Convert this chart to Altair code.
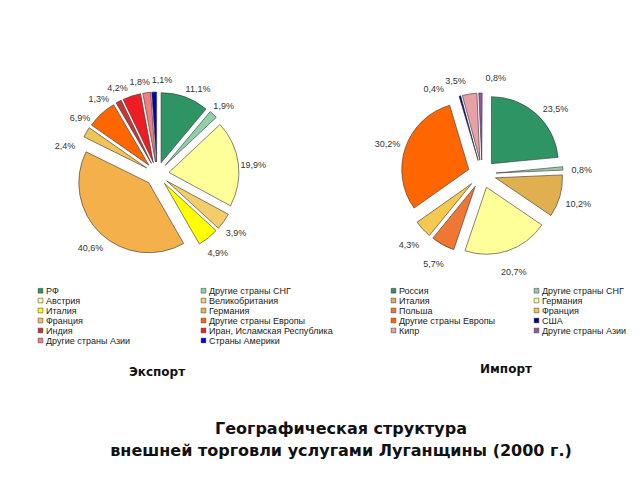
import altair as alt
import pandas as pd

# ---------------- data ----------------
exp_names = ["РФ", "Другие страны СНГ", "Австрия", "Великобритания", "Италия",
             "Германия", "Франция", "Другие страны Европы", "Индия",
             "Иран, Исламская Республика", "Другие страны Азии", "Страны Америки"]
exp_values = [11.1, 1.9, 19.9, 3.9, 4.9, 40.6, 2.4, 6.9, 1.3, 4.2, 1.8, 1.1]
exp_colors = ["#2F9464", "#8FD0A8", "#FFFF99", "#F3CD6A", "#FFFF00", "#F4B04A",
              "#F1C45A", "#FF6600", "#CC3333", "#EE1C25", "#F08080", "#0000CC"]

imp_names = ["Россия", "Другие страны СНГ", "Италия", "Германия", "Польша",
             "Франция", "Другие страны Европы", "США", "Кипр", "Другие страны Азии"]
imp_values = [23.5, 0.8, 10.2, 20.7, 5.7, 4.3, 30.2, 0.4, 3.5, 0.8]
imp_colors = ["#2E9464", "#99CCAA", "#E0B050", "#FFFF99", "#EE7733",
              "#F5C850", "#FF6600", "#000080", "#E8A0A8", "#9955AA"]

panel_titles = ["Экспорт", "Импорт"]
main_title = ["Географическая структура", "внешней торговли услугами Луганщины (2000 г.)"]

# layout only: angular nudges (degrees) for crowded data labels
exp_label_nudge = {"Франция": -12, "Другие страны Европы": -10, "Индия": -9,
                   "Иран, Исламская Республика": -6, "Другие страны Азии": -3,
                   "Страны Америки": 5, "РФ": 5}
imp_label_nudge = {"США": -13, "Кипр": -6.5, "Другие страны Азии": 9, "Россия": 5}

FONT = "Liberation Sans"


def pie(names, values, colors, nudge, cx, cy, r, e, lr, ldy, legx, legy, cpad):
    df = pd.DataFrame({"name": names, "value": values, "idx": list(range(len(names)))})
    nudge_expr = "0"
    for k, v in nudge.items():
        nudge_expr = f"(datum.name == '{k}' ? {v} : {nudge_expr})"
    base = (
        alt.Chart(df)
        .transform_window(cum="sum(value)", sort=[alt.SortField("idx")], frame=[None, 0])
        .transform_calculate(start="datum.cum - datum.value")
        .transform_calculate(mid="(datum.cum - datum.value / 2) * 2 * PI / 100")
        .transform_calculate(lmid=f"datum.mid + ({nudge_expr}) * PI / 180")
        .transform_calculate(px=f"{cx} + {e} * sin(datum.mid)")
        .transform_calculate(py=f"{cy} - {e} * cos(datum.mid)")
        .transform_calculate(lx=f"{cx} + {lr} * sin(datum.lmid)")
        .transform_calculate(ly=f"{cy} + {ldy} - {lr} * cos(datum.lmid)")
        .transform_calculate(label="replace(format(datum.value, '.1f'), '.', ',') + '%'")
    )
    arcs = base.mark_arc(outerRadius=r, stroke="#333333", strokeWidth=0.6).encode(
        x=alt.X("px:Q", scale=None, axis=None),
        y=alt.Y("py:Q", scale=None, axis=None),
        theta=alt.Theta("start:Q", stack=None,
                        scale=alt.Scale(domain=[0, 100], range=[0, 6.283185307179586])),
        theta2="cum:Q",
        color=alt.Color(
            "name:N",
            scale=alt.Scale(domain=names, range=colors),
            legend=alt.Legend(
                title=None, orient="none", legendX=legx, legendY=legy, columns=2,
                direction="horizontal",
                columnPadding=cpad, symbolType="square", symbolSize=22,
                symbolStrokeColor="#333333", symbolStrokeWidth=0.5,
                labelFontSize=9, labelFont=FONT, labelColor="#222222",
                rowPadding=0, labelOffset=1, labelLimit=250, padding=0,
            ),
        ),
    )
    labels = base.mark_text(fontSize=9, font=FONT, color="#333333").encode(
        x=alt.X("lx:Q", scale=None, axis=None),
        y=alt.Y("ly:Q", scale=None, axis=None),
        text="label:N",
    )
    return [arcs, labels]


exp_layers = pie(exp_names, exp_values, exp_colors, exp_label_nudge,
                 157, 174, 70, 12, 97, 3, 36, 286, 68)
imp_layers = pie(imp_names, imp_values, imp_colors, imp_label_nudge,
                 482, 174, 67, 14, 100, 3, 389, 286, 36)

tdf = pd.DataFrame({"t": panel_titles})
t_exp = alt.Chart(tdf).transform_filter("datum.t == 'Экспорт'").mark_text(
    font="DejaVu Sans", fontWeight="bold", fontSize=12, color="#111111", align="left"
).encode(text="t:N", x=alt.value(129), y=alt.value(372))
t_imp = alt.Chart(tdf).transform_filter("datum.t == 'Импорт'").mark_text(
    font="DejaVu Sans", fontWeight="bold", fontSize=12, color="#111111", align="left"
).encode(text="t:N", x=alt.value(480), y=alt.value(369))

mdf = pd.DataFrame({"t": main_title, "i": [0, 1]})
m1 = alt.Chart(mdf).transform_filter("datum.i == 0").mark_text(
    font="DejaVu Sans", fontWeight="bold", fontSize=16, color="#111111"
).encode(text="t:N", x=alt.value(341), y=alt.value(429))
m2 = alt.Chart(mdf).transform_filter("datum.i == 1").mark_text(
    font="DejaVu Sans", fontWeight="bold", fontSize=16, color="#111111"
).encode(text="t:N", x=alt.value(341), y=alt.value(451))

chart = (
    alt.layer(*exp_layers, *imp_layers, t_exp, t_imp, m1, m2)
    .resolve_scale(color="independent", theta="independent")
    .properties(width=640, height=480, padding=0,
                autosize=alt.AutoSizeParams(type="none"), background="white")
    .configure_view(stroke=None)
)

chart.save("out.html", embed_options={"renderer": "svg", "actions": False})
